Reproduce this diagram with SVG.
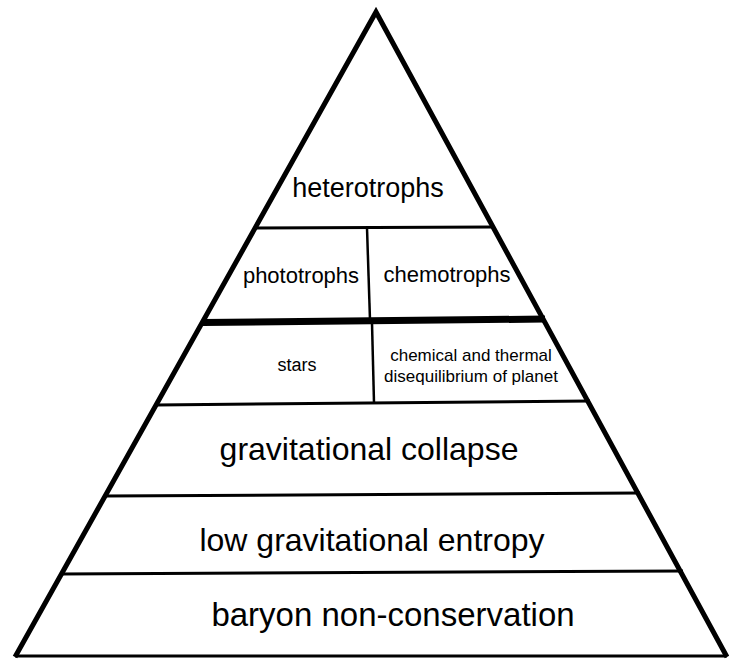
<svg xmlns="http://www.w3.org/2000/svg" width="733" height="659" viewBox="0 0 733 659">
<style>
.t{font-family:"Liberation Sans",Arial,Helvetica,sans-serif;fill:#000;text-anchor:middle}
.ln{stroke:#000;stroke-width:3;fill:none;stroke-linecap:butt}
.dv{stroke:#000;stroke-width:2.5;fill:none}
</style>
<rect width="733" height="659" fill="#fff"/>
<g id="connectors">
<line class="ln" x1="255" y1="228" x2="494" y2="227"/>
<line x1="203" y1="322.5" x2="545" y2="319" stroke="#000" stroke-width="7"/>
<line class="ln" x1="156" y1="405" x2="590" y2="401"/>
<line class="ln" x1="104" y1="496" x2="640" y2="493"/>
<line class="ln" x1="60" y1="574" x2="683" y2="571"/>
<line class="dv" x1="367" y1="228" x2="370" y2="320"/>
<line class="dv" x1="372" y1="323" x2="374" y2="403"/>
<line class="ln" x1="15" y1="656" x2="727" y2="656"/>
<polyline points="15,657 376,12 727,657" fill="none" stroke="#000" stroke-width="5" stroke-linejoin="miter" stroke-miterlimit="20"/>
</g>
<g id="heterotrophs"><text class="t" x="368" y="197" font-size="27">heterotrophs</text></g>
<g id="phototrophs"><text class="t" x="301" y="283" font-size="22">phototrophs</text></g>
<g id="chemotrophs"><text class="t" x="447" y="282" font-size="22">chemotrophs</text></g>
<g id="stars"><text class="t" x="297" y="371" font-size="18">stars</text></g>
<g id="disequilibrium"><text class="t" x="471" y="361" font-size="17">chemical and thermal</text><text class="t" x="471" y="382" font-size="17">disequilibrium of planet</text></g>
<g id="collapse"><text class="t" x="369" y="460" font-size="32">gravitational collapse</text></g>
<g id="entropy"><text class="t" x="372" y="551" font-size="32">low gravitational entropy</text></g>
<g id="baryon"><text class="t" x="393" y="626" font-size="33">baryon non-conservation</text></g>
</svg>
